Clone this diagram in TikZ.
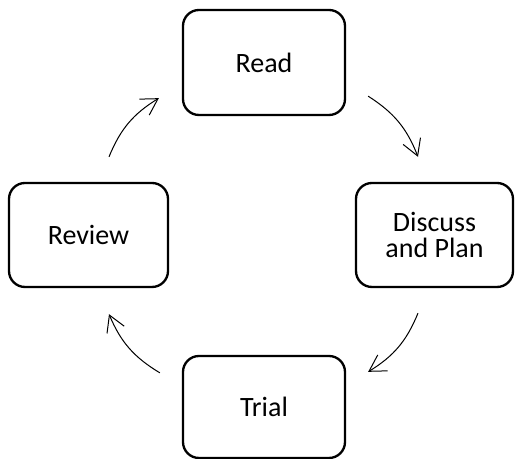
\documentclass[tikz,border=0pt]{standalone}
\usepackage{fontspec}
\setmainfont{Carlito}
\usetikzlibrary{arrows.meta}

\begin{document}
\begin{tikzpicture}[
                    x = 0.75pt,
                    y = -0.75pt,
                    stage/.style = {draw, line width=1.75pt, rounded corners=12pt,
                                    align=center, inner sep=0pt,
                                    font=\fontsize{21}{19.5}\selectfont},
                    roundarrow/.style = {-{Straight Barb[length=12pt,width=14pt]},
                                         line width=0.75pt, bend left=18}]

\useasboundingbox (0,0) rectangle (515,459);

%stages
\node [stage, minimum width=121.5pt, minimum height=78.75pt] (read) at (264,62.5) {Read};
\node [stage, minimum width=117.75pt, minimum height=78pt] (discuss) at (434.5,235) {Discuss\\and Plan};
\node [stage, minimum width=121.5pt, minimum height=76.5pt] (trial) at (264,407) {Trial};
\node [stage, minimum width=119.25pt, minimum height=78pt] (review) at (88.5,235) {Review};

%arrows round the cycle
\draw [roundarrow] ([shift={(22,-20)}]read.south east)    to ([shift={(-16.5,-25)}]discuss.north);
\draw [roundarrow] ([shift={(-16.5,25)}]discuss.south)   to ([shift={(22,17)}]trial.north east);
\draw [roundarrow] ([shift={(-22,18)}]trial.north west)  to ([shift={(20.5,26)}]review.south);
\draw [roundarrow] ([shift={(20.5,-25)}]review.north)    to ([shift={(-23,-18)}]read.south west);

\end{tikzpicture}
\end{document}
